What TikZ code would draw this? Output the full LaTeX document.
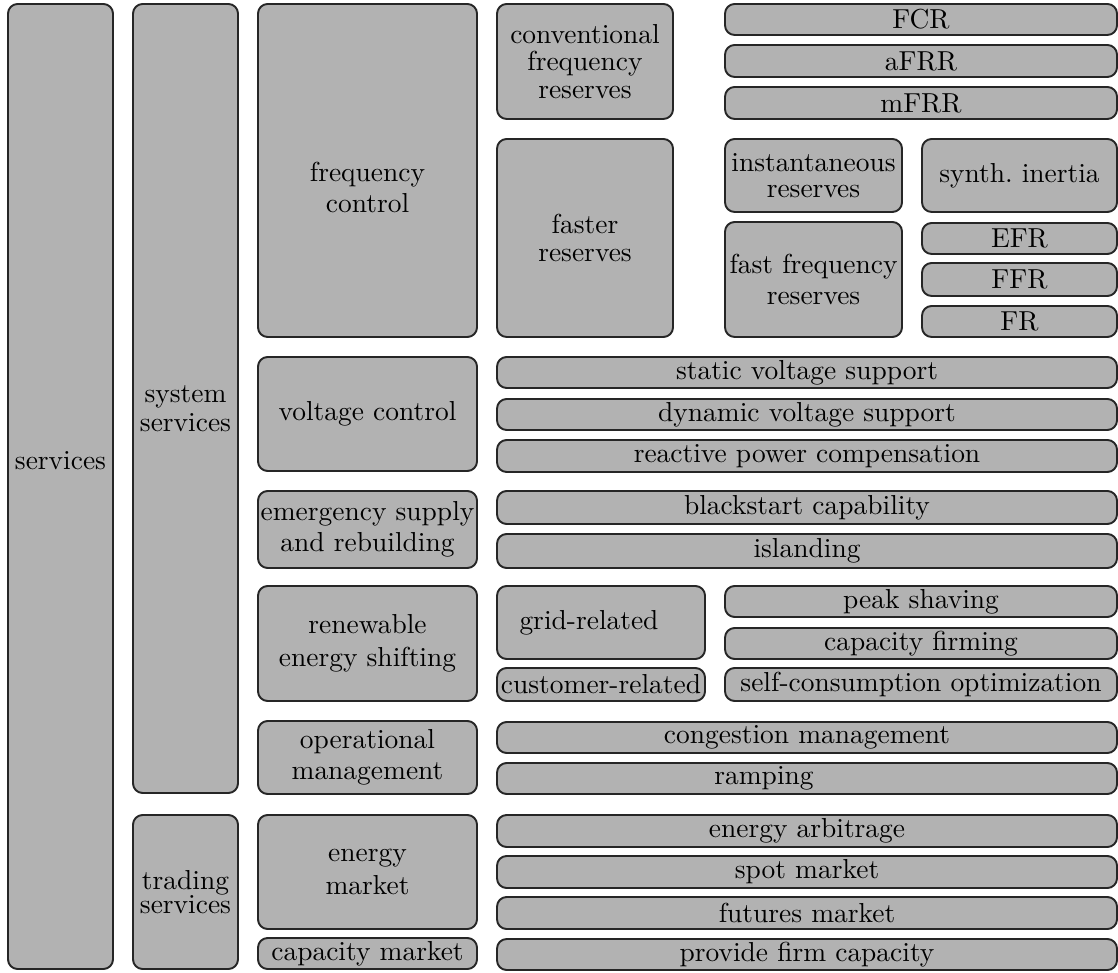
\documentclass[tikz,border=0pt]{standalone}
\usepackage{tikz}
\usetikzlibrary{positioning,calc}

\begin{document}
\begin{tikzpicture}[
  x=0.0128cm, y=-0.0128cm,
  every node/.style={font=\normalsize},
  box/.style={draw=black!85, line width=0.7pt, fill=black!30, rounded corners=3.5pt, inner sep=0pt, align=center},
  cell/.style n args={4}{at={($(#1,#2)!0.5!(#3,#4)$)}, minimum width=(#3-#1)*0.0128cm, minimum height=(#4-#2)*0.0128cm},
  lbl/.style={inner sep=0pt, align=center}
]
\useasboundingbox (0,0) rectangle (1118,973);

% Service classes
\node[box, cell={8}{4}{113}{969}] (services) {};
\node[lbl] at ($(services)+(0,-26)$) {services};
\node[box, cell={133}{4}{238}{793}] (system) {};
\node[lbl] at ($(system)+(0,10)$) {system\\[-1.5pt]services};
\node[box, cell={133}{815}{238}{969}] (trading) {trading\\[-3.5pt]services};

% Services
\node[box, cell={258}{4}{477}{337}] (freqctl) {};
\node[lbl] at ($(freqctl)+(0,17)$) {frequency\\[-1pt]control};
\node[box, cell={258}{357}{477}{471}] (voltctl) {voltage control};
\node[box, cell={258}{491}{477}{568}] (emergency) {emergency supply\\[-0.5pt]and rebuilding};
\node[box, cell={258}{586}{477}{701}] (shifting) {renewable\\energy shifting};
\node[box, cell={258}{721}{477}{794}] (operation) {operational\\[-0.7pt]management};
\node[box, cell={258}{815}{477}{929}] (energymkt) {energy\\market};
\node[box, cell={258}{938}{477}{969}] (capmkt) {capacity market};

% Frequency control
\node[box, cell={497}{4}{673}{119}] (conventional) {conventional\\[-2pt]frequency\\[-2pt]reserves};
\node[box, cell={725}{4}{1117}{35}] (fcr) {FCR};
\node[box, cell={725}{45}{1117}{77}] (afrr) {aFRR};
\node[box, cell={725}{87}{1117}{119}] (mfrr) {mFRR};
\node[box, cell={497}{139}{673}{337}] (faster) {faster\\[-1.8pt]reserves};
\node[box, cell={725}{139}{902}{212}] (instant) {instantaneous\\[-2.5pt]reserves};
\node[box, cell={725}{222}{902}{337}] (fastfreq) {fast frequency\\[-1pt]reserves};
\node[box, cell={922}{139}{1117}{212}] (inertia) {synth.\ inertia};
\node[box, cell={922}{223}{1117}{254}] (efr) {EFR};
\node[box, cell={922}{263}{1117}{296}] (ffr) {FFR};
\node[box, cell={922}{306}{1117}{337}] (fr) {FR};

% Voltage control
\node[box, cell={497}{357}{1117}{388}] (static) {static voltage support};
\node[box, cell={497}{399}{1117}{430}] (dynamic) {dynamic voltage support};
\node[box, cell={497}{440}{1117}{472}] (reactive) {reactive power compensation};

% Emergency supply
\node[box, cell={497}{491}{1117}{524}] (blackstart) {blackstart capability};
\node[box, cell={497}{534}{1117}{568}] (islanding) {islanding};

% Energy shifting
\node[box, cell={497}{586}{705}{659}] (grid) {};
\node[lbl] at ($(grid)+(-12,0)$) {grid-related};
\node[box, cell={497}{668}{705}{701}] (customer) {customer-related};
\node[box, cell={725}{586}{1117}{617}] (peak) {peak shaving};
\node[box, cell={725}{628}{1117}{659}] (firming) {capacity firming};
\node[box, cell={725}{668}{1117}{701}] (selfcons) {self-consumption optimization};

% Operational management
\node[box, cell={497}{722}{1117}{753}] (congestion) {congestion management};
\node[box, cell={497}{763}{1117}{794}] (ramping) {};
\node[lbl] at ($(ramping)+(-43,0)$) {ramping};

% Trading
\node[box, cell={497}{815}{1117}{847}] (arbitrage) {energy arbitrage};
\node[box, cell={497}{856}{1117}{888}] (spot) {spot market};
\node[box, cell={497}{897}{1117}{929}] (futures) {futures market};
\node[box, cell={497}{939}{1117}{970}] (firmcap) {provide firm capacity};

\end{tikzpicture}
\end{document}
